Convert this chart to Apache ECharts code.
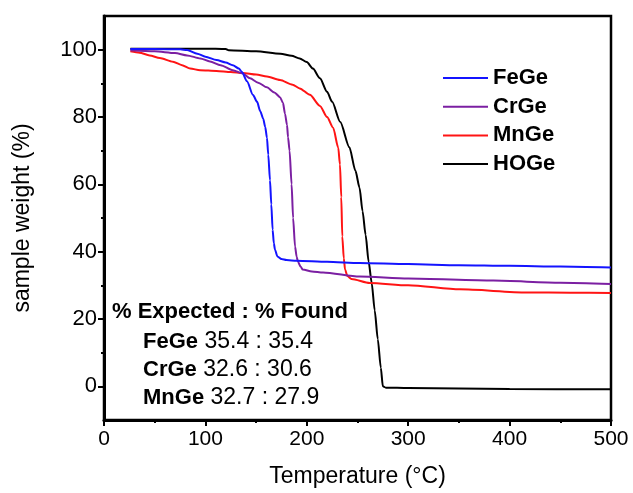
<!DOCTYPE html>
<html>
<head>
<meta charset="utf-8">
<script src="https://cdn.jsdelivr.net/npm/echarts@6/dist/echarts.min.js"></script>
<style>
html,body{margin:0;padding:0;background:#fff;}
#chart{width:633px;height:493px;}
</style>
</head>
<body>
<div id="chart"></div>
<script>
// ---- data (temperature °C, sample weight %) ----
const seriesNames = ['FeGe', 'CrGe', 'MnGe', 'HOGe'];
const seriesColors = ['#1414ff', '#7b1fa2', '#ff1414', '#000000'];

const feGe = [[26,100.2],[50,100.2],[75,100.1],[82,99.9],[92,98.8],[100,97.9],[111,96.9],[120,96.2],[127,95.4],[133,94.4],[136,93.4],[141,90.6],[147,86.5],[151,84.5],[154,81.8],[157,79.5],[159,77],[160.7,73.8],[162,68.8],[163.7,61.2],[165,54],[166.3,46.5],[167.5,42.5],[168.6,40.6],[171,38.6],[175,37.8],[180,37.5],[190,37.3],[220,37.0],[252,36.6],[300,36.3],[350,36.0],[400,35.8],[450,35.6],[500,35.3]];

const crGe = [[26,99.8],[50,99.5],[70,99.0],[82,98.3],[95,97.4],[104.5,96.5],[115,95.4],[127,93.9],[137,92.9],[144,91.5],[152,90.2],[160.7,88.8],[168,87.3],[173.6,85.9],[176.5,84.2],[178.5,81],[180.5,77.6],[181.5,74],[183,70],[185,60],[186.5,50],[188.4,41.5],[190,38.5],[191.3,37],[194,35.5],[196,34.7],[205,34.1],[216,33.8],[252,32.6],[300,32.0],[384,31.4],[450,30.8],[500,30.4]];

const mnGe = [[26,99.5],[35,99.1],[45,98.3],[55,97.5],[68,96.4],[77,95.4],[85,94.4],[94.7,93.9],[111,93.7],[125,93.4],[137,93.1],[150,92.6],[160.7,92],[173.6,91],[186,89.6],[193,88.5],[203,86.6],[213,83.3],[220,80],[226,76.8],[231,70.9],[232.7,65.9],[234,56.2],[235,44.5],[236.5,38],[237.7,34.7],[240,32.8],[244,31.9],[262,30.7],[300,30],[351,28.8],[417,27.9],[460,27.8],[500,27.7]];

const hoGe = [[26,100.3],[60,100.3],[100,100.3],[120,100.2],[123,99.8],[150,99.5],[174,98.8],[185,98.2],[193,97.4],[200,96.3],[206,94.4],[213,91.5],[220,87.5],[225,84.5],[233,78.5],[242,71],[248,64],[252,59],[255,52],[258,45],[261,37],[264,30.7],[267,22.5],[270,14],[273,5.5],[275,0],[278,-0.4],[300,-0.5],[400,-0.8],[500,-0.9]];

const xTicks = [0, 100, 200, 300, 400, 500];
const yTicks = [0, 20, 40, 60, 80, 100];
const yMinorTicks = [10, 30, 50, 70, 90];

const annotationTitle = '% Expected : % Found';
const annotationRows = [
  ['FeGe', '35.4 : 35.4'],
  ['CrGe', '32.6 : 30.6'],
  ['MnGe', '32.7 : 27.9']
];

const seriesData = [feGe, crGe, mnGe, hoGe];
const FONT = '"Liberation Sans", Arial, Helvetica, sans-serif';

const chart = echarts.init(document.getElementById('chart'), null, {renderer: 'canvas'});

const option = {
  animation: false,
  backgroundColor: '#fff',
  grid: {
    left: 104, top: 16, right: 22, bottom: 68,
    show: true, borderColor: '#000', borderWidth: 2.5, backgroundColor: 'transparent'
  },
  legend: {
    orient: 'vertical',
    left: 438, top: 62,
    icon: 'rect',
    itemWidth: 45, itemHeight: 2,
    itemGap: 6.7,
    data: seriesNames,
    textStyle: {fontFamily: FONT, fontSize: 22, fontWeight: 'bold', color: '#000', lineHeight: 22}
  },
  xAxis: {
    type: 'value', min: 0, max: 500, interval: 100,
    name: 'Temperature (°C)', nameLocation: 'middle', nameGap: 45,
    nameTextStyle: {fontFamily: FONT, fontSize: 23, color: '#000'},
    axisLine: {show: true, onZero: false, lineStyle: {color: '#000', width: 3}},
    axisTick: {show: true, inside: false, length: 6, lineStyle: {color: '#000', width: 2}},
    minorTick: {show: true, splitNumber: 2, length: 3, lineStyle: {color: '#000', width: 2}},
    axisLabel: {fontFamily: FONT, fontSize: 21, color: '#000', margin: 9,
      customValues: xTicks},
    splitLine: {show: false}
  },
  yAxis: [{
    type: 'value', min: -10, max: 110,
    name: 'sample weight (%)', nameLocation: 'middle', nameGap: 70,
    nameTextStyle: {fontFamily: FONT, fontSize: 23, color: '#000'},
    axisLine: {show: true, onZero: false, lineStyle: {color: '#000', width: 3}},
    axisTick: {show: true, inside: false, length: 6, lineStyle: {color: '#000', width: 2},
      customValues: yTicks},
    axisLabel: {fontFamily: FONT, fontSize: 22, color: '#000', margin: 7,
      customValues: yTicks},
    splitLine: {show: false}
  }, {
    type: 'value', min: -10, max: 110, position: 'left', offset: 0,
    axisLine: {show: true, onZero: false, lineStyle: {color: 'rgba(0,0,0,0)', width: 0}},
    axisTick: {show: true, inside: false, length: 3, lineStyle: {color: '#000', width: 2},
      customValues: yMinorTicks},
    axisLabel: {show: true, formatter: function () { return ''; },
      customValues: yMinorTicks},
    splitLine: {show: false}
  }],
  graphic: [
    {
      type: 'text', left: 112, top: 301,
      style: {text: annotationTitle, font: 'bold 22px ' + FONT, fill: '#000'}
    }
  ].concat(annotationRows.map(function (r, i) {
    return {
      type: 'text', left: 143, top: 330 + i * 28.3,
      style: {
        text: '{b|' + r[0] + '}{n| ' + r[1] + '}',
        rich: {
          b: {fontFamily: FONT, fontSize: 22, fontWeight: 'bold', fill: '#000', lineHeight: 24, verticalAlign: 'middle'},
          n: {fontFamily: FONT, fontSize: 23, fontWeight: 'normal', fill: '#000', lineHeight: 24, verticalAlign: 'middle'}
        }
      }
    };
  })),
  series: seriesNames.map(function (name, i) {
    return {
      name: name,
      type: 'line',
      data: seriesData[i],
      showSymbol: false,
      symbol: 'none',
      smooth: 0.25,
      smoothMonotone: 'x',
      lineStyle: {color: seriesColors[i], width: 2},
      itemStyle: {color: seriesColors[i]},
      z: 4 - i
    };
  })
};
chart.setOption(option);
</script>
</body>
</html>
